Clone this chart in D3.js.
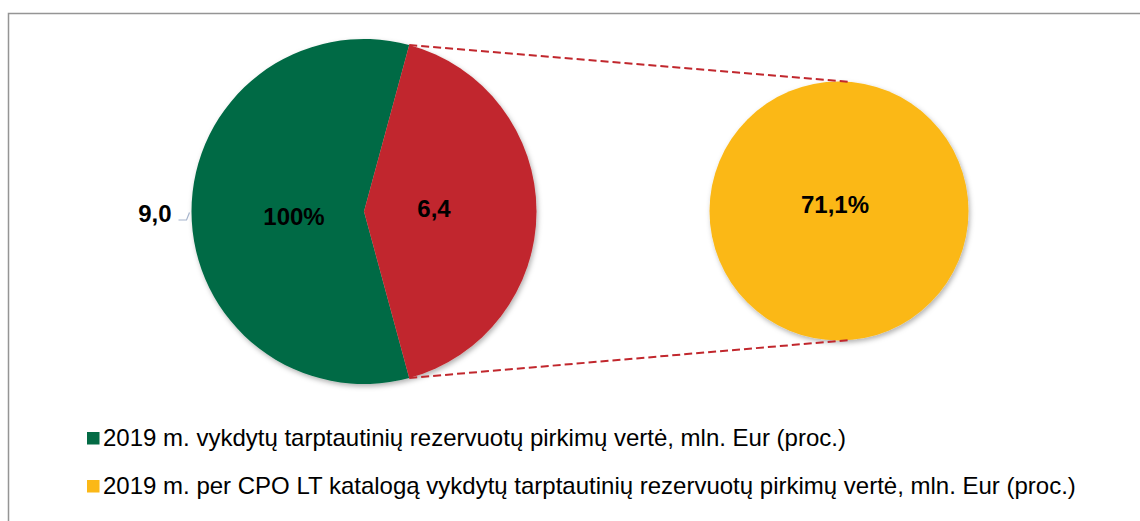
<!DOCTYPE html>
<html><head><meta charset="utf-8">
<script src="https://cdn.jsdelivr.net/npm/d3@7"></script>
<style>body{margin:0;background:#fff;} svg{display:block;font-family:"Liberation Sans",Arial,sans-serif;}</style>
</head><body>
<svg id="c" width="1140" height="521"></svg>
<script>
// Data
const mainCategories = ["Kita", "Per CPO LT katalogą"];
const mainValues = [9.0, 6.4];
const mainLabels = ["100%", "6,4"];
const outerLabel = "9,0";
const secondaryValues = [6.4];
const secondaryLabels = ["71,1%"];
const legendLabels = [
  "2019 m. vykdytų tarptautinių rezervuotų pirkimų vertė, mln. Eur (proc.)",
  "2019 m. per CPO LT katalogą vykdytų tarptautinių rezervuotų pirkimų vertė, mln. Eur (proc.)"
];
const mainColors = ["#036B45", "#C1272D"];
const secondaryColor = "#FBB817";
const legendColors = ["#036B45", "#FBB817"];

const svg = d3.select("#c");
const defs = svg.append("defs");
const f = defs.append("filter").attr("id","sh").attr("x","-10%").attr("y","-10%").attr("width","130%").attr("height","130%");
f.append("feDropShadow").attr("dx",1.5).attr("dy",2.5).attr("stdDeviation",2.5).attr("flood-color","#000").attr("flood-opacity",0.3);

// border
svg.append("rect").attr("x",8.5).attr("y",13.5).attr("width",1145).attr("height",520)
  .attr("fill","none").attr("stroke","#959595").attr("stroke-width",1.5);

// main pie
const cx = 364, cy = 211.5, R = 172.5;
const total = d3.sum(mainValues);
const redAng = mainValues[1] / total * 2 * Math.PI;
const pie = d3.pie().sort(null).startAngle(Math.PI/2 + redAng/2).endAngle(Math.PI/2 + redAng/2 + 2*Math.PI);
const arcs = pie(mainValues);
const arc = d3.arc().innerRadius(0).outerRadius(R);
const labelArc = d3.arc().innerRadius(70).outerRadius(70);
const labelDy = [5, -3];
const g = svg.append("g").attr("transform", `translate(${cx},${cy})`);
g.append("g").attr("filter","url(#sh)").selectAll("path").data(arcs).join("path")
  .attr("d", arc).attr("fill", (d,i)=>mainColors[i]);
g.selectAll("text.lbl").data(arcs).join("text").attr("class","lbl")
  .attr("x", d=>labelArc.centroid(d)[0]).attr("y", (d,i)=>labelArc.centroid(d)[1] + labelDy[i])
  .attr("dy","0.35em").attr("text-anchor","middle")
  .attr("font-size",24).attr("font-weight","bold").attr("fill","#000")
  .text((d,i)=>mainLabels[i]);

// outer label with leader
const gMid = (arcs[0].startAngle + arcs[0].endAngle)/2;
const edge = [Math.sin(gMid)*(R+1), -Math.cos(gMid)*(R+1)];
g.append("path").attr("d", `M${edge[0]-12},${edge[1]+8.5}L${edge[0]-4},${edge[1]+8.5}L${edge[0]-1},${edge[1]+1}`)
  .attr("fill","none").attr("stroke","#A6B4CC").attr("stroke-width",1.2);
g.append("text").attr("x", edge[0]-19).attr("y", edge[1]+10).attr("text-anchor","end")
  .attr("font-size",24).attr("font-weight","bold").text(outerLabel);

// secondary pie
const sx = 839, sy = 211, sR = 129.5;
const sArcs = d3.pie().sort(null)(secondaryValues);
const sArc = d3.arc().innerRadius(0).outerRadius(sR);
const sg = svg.append("g").attr("transform", `translate(${sx},${sy})`);
sg.append("g").attr("filter","url(#sh)").selectAll("path").data(sArcs).join("path")
  .attr("d", sArc).attr("fill", secondaryColor);
sg.selectAll("text").data(sArcs).join("text")
  .attr("x",-4).attr("y",-6).attr("dy","0.35em").attr("text-anchor","middle")
  .attr("font-size",24).attr("font-weight","bold").text((d,i)=>secondaryLabels[i]);

// connector lines
const redA0 = arcs[1].startAngle, redA1 = arcs[1].endAngle;
const p = (a, r, x0, y0) => [x0 + Math.sin(a)*r, y0 - Math.cos(a)*r];
const t0 = p(redA0, R, cx, cy), b0 = p(redA1, R, cx, cy);
const a2 = 5 * Math.PI/180;
const t1 = p(a2, sR, sx, sy), b1 = p(Math.PI - a2, sR, sx, sy);
[[t0,t1],[b0,b1]].forEach(([a,b])=>{
  svg.append("line").attr("x1",a[0]).attr("y1",a[1]).attr("x2",b[0]).attr("y2",b[1])
    .attr("stroke","#C1272D").attr("stroke-width",2).attr("stroke-dasharray","8,4");
});

// legend
const lg = svg.append("g");
legendLabels.forEach((t,i)=>{
  const y = 432 + i*48;
  lg.append("rect").attr("x",87).attr("y",y).attr("width",12.5).attr("height",12.5).attr("fill",legendColors[i]);
  lg.append("text").attr("x",103).attr("y",y+14).attr("font-size",24).attr("fill","#000").text(t);
});
</script>
</body></html>
